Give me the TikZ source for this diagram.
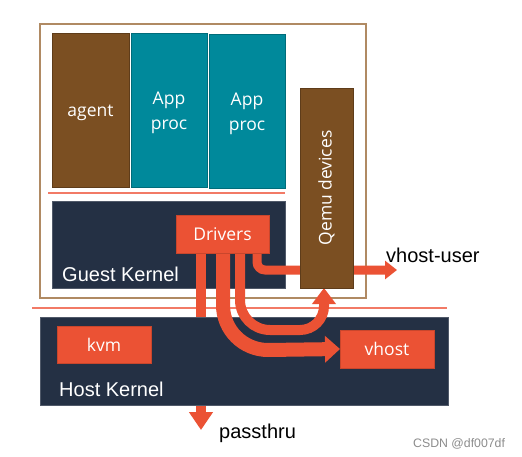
\documentclass[tikz,border=0pt]{standalone}
\usepackage{fontspec}
\setmainfont{Open Sans}
\newfontfamily\arialf{Liberation Sans}
\usetikzlibrary{arrows.meta}
\definecolor{brn}{HTML}{7B4F22}
\definecolor{brnd}{HTML}{5E3C1A}
\definecolor{teal}{HTML}{00899B}
\definecolor{teald}{HTML}{006C7A}
\definecolor{navy}{HTML}{243044}
\definecolor{orr}{HTML}{EB5234}
\definecolor{orrd}{HTML}{C9462C}
\definecolor{tan}{HTML}{B08A63}
\definecolor{redl}{HTML}{F27A66}
\pgfdeclarelayer{bgA}
\pgfdeclarelayer{bgB}
\pgfdeclarelayer{arr}
\pgfsetlayers{bgA,bgB,arr,main}
\tikzset{
  blk/.style={rectangle, inner sep=0pt, outer sep=0pt, line width=0.8pt, text=white, font=\fontsize{17.5}{25}\selectfont, align=center},
  brownbox/.style={blk, fill=brn, draw=brnd},
  tealbox/.style={blk, fill=teal, draw=teald},
  navybox/.style={rectangle, inner sep=0pt, outer sep=0pt, fill=navy, draw=navy!80!white, line width=0.6pt},
  orbox/.style={blk, fill=orr, draw=orrd, line width=0.6pt},
  klabel/.style={inner sep=0pt, text=white, font=\arialf\fontsize{20}{24}\selectfont},
  blabel/.style={inner sep=0pt, text=black, font=\arialf\fontsize{20}{24}\selectfont},
  flow/.style={draw=orr, line width=10pt},
  sepline/.style={draw=redl, line width=1.4pt},
}
\begin{document}
\begin{tikzpicture}[x=1pt,y=-1pt]
\useasboundingbox (0,0) rectangle (522,457);

% front nodes
\node[brownbox, minimum width=53pt, minimum height=200pt] (qm) at (326.5,188)
  {\rotatebox{90}{Qemu devices}};
\node[orbox, minimum width=93pt, minimum height=38pt] (drv) at (222.5,234) {Drivers};
\node[blabel, anchor=west] (vul) at (386,255) {vhost-user};
\node[blabel, anchor=base west] (ptl) at (219,438) {passthru};
\node[inner sep=0pt, anchor=base west, text=black!45, font=\arialf\fontsize{12.3}{14}\selectfont] (csdn) at (413,447) {CSDN @df007df};

\begin{pgfonlayer}{bgA}
  \fill[white] (0,0) rectangle (522,457);
  \draw[tan, line width=1.4pt] (40,24) rectangle (366,298);
  \node[brownbox, minimum width=77pt, minimum height=154pt, text height=14pt, text depth=0pt] (agent) at (90.5,110) {agent};
  \node[tealbox, minimum width=76pt, minimum height=154pt, text height=40pt, text depth=0pt] (app1) at (169,110) {App\\proc};
  \node[tealbox, minimum width=76pt, minimum height=154pt, text height=40pt, text depth=0pt] (app2) at (247,111) {App\\proc};
  \coordinate (ul1) at (48,193);
  \coordinate (ul2) at (285,193);
  \draw[sepline] (ul1) -- (ul2);
  \node[navybox, minimum width=233pt, minimum height=87pt] (gk) at (168.5,244.5) {};
  \node[klabel, anchor=base west] (gkl) at (62,281) {Guest Kernel};
  \coordinate (hl1) at (32,308);
  \coordinate (hl2) at (447,308);
  \draw[sepline] (hl1) -- (hl2);
  \coordinate (pt) at (201,430);
  \draw[flow, -{Triangle[width=23pt,length=18pt]}] ([xshift=-21.5pt]drv.south) -- (pt);
\end{pgfonlayer}

\begin{pgfonlayer}{bgB}
  \node[navybox, minimum width=408pt, minimum height=88pt] (hk) at (244,361) {};
  \node[orbox, minimum width=94pt, minimum height=37pt] (kvm) at (104,344.5) {kvm};
  \node[orbox, minimum width=94pt, minimum height=38pt] (vh) at (387,349) {vhost};
  \node[klabel, anchor=base west] (hkl) at (59,396) {Host Kernel};
\end{pgfonlayer}

\begin{pgfonlayer}{arr}
  % to vhost
  \draw[flow, line width=14pt, -{Triangle[width=26pt,length=15pt]}]
    ([xshift=0.5pt]drv.south) -- (223,305)
    .. controls (223,329.9) and (243.1,350) .. (268,350) -- (vh.west);
  % up to qemu
  \draw[flow, -{Triangle[width=23pt,length=16pt]}]
    ([xshift=17.5pt]drv.south) -- (240,300)
    .. controls (240,316.6) and (253.4,330) .. (270,330) -- (300,330)
    .. controls (313.3,330) and (324,319.3) .. (324,306) -- ([xshift=-2.5pt]qm.south);
  % vhost-user
  \coordinate (vu) at (397,270);
  \draw[flow, line width=9pt, -{Triangle[width=18pt,length=12pt]}]
    ([xshift=34.5pt]drv.south) -- (257,262)
    .. controls (257,266.4) and (260.6,270) .. (265,270) -- (vu);
\end{pgfonlayer}
\end{tikzpicture}
\end{document}
